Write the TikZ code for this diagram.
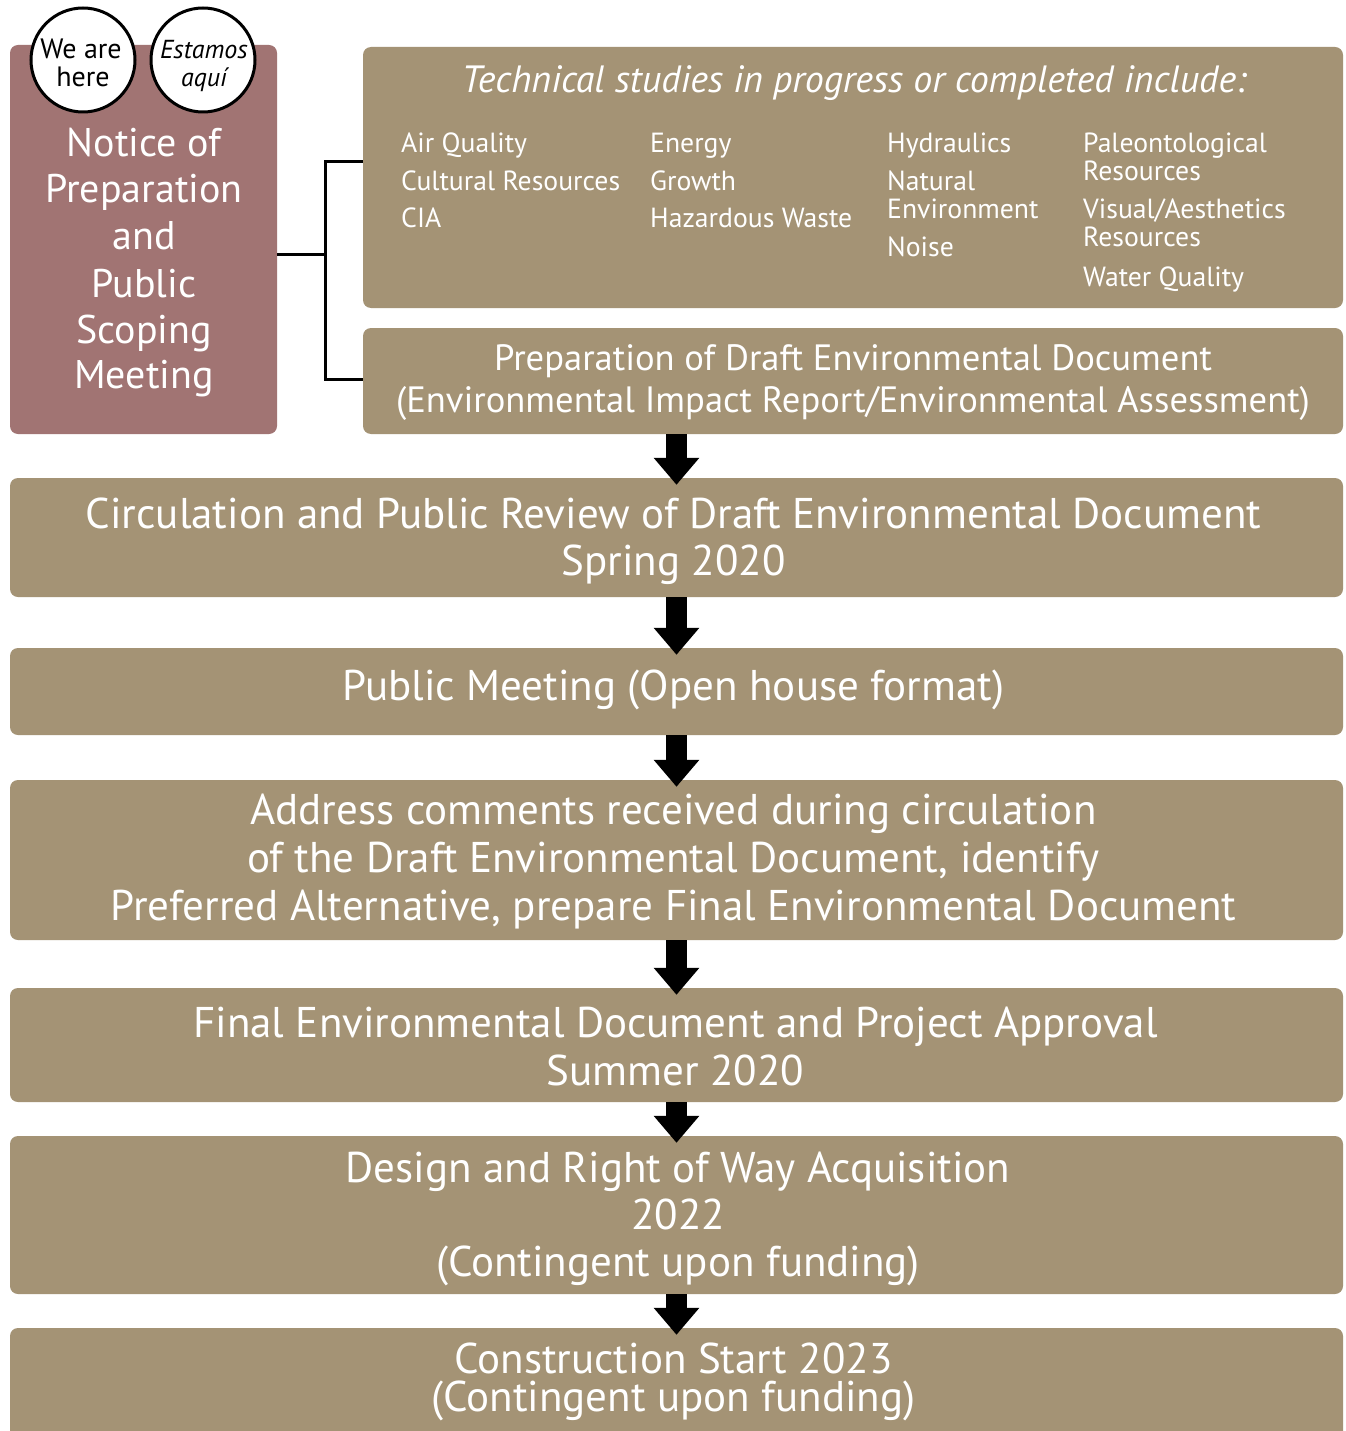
\documentclass[tikz,border=0pt]{standalone}
\usepackage{fontspec}
\setmainfont{PT Sans}
\usetikzlibrary{arrows.meta}
\definecolor{boxtan}{RGB}{164,147,117}
\definecolor{boxrose}{RGB}{161,116,115}
\newcommand\setfs[1]{\fontsize{#1}{#1}\selectfont}
\begin{document}
\begin{tikzpicture}[x=1pt,y=-1pt,
  tanbox/.style={fill=boxtan, rounded corners=8pt, inner sep=0pt, minimum width=#1},
  rosebox/.style={fill=boxrose, rounded corners=8pt, inner sep=0pt},
  badge/.style={circle, draw=black, line width=3pt, fill=white, minimum size=104pt, inner sep=0pt},
  wtxt/.style={text=white, inner sep=0pt, anchor=base},
  btxt/.style={text=black, inner sep=0pt, anchor=base},
  ltxt/.style={text=white, inner sep=0pt, anchor=base west, font=\setfs{27.7}},
  maintxt/.style={wtxt, font=\setfs{43}},
  bigarrow/.style={line width=21pt, -{Triangle[width=44pt,length=27pt]}, shorten >=-7pt},
  conn/.style={line width=3pt, draw=black}]
\clip (0,0) rectangle (1345,1431);
\fill[white] (0,0) rectangle (1345,1431);

% boxes
\node[rosebox, minimum width=267pt, minimum height=389pt] (pink) at (143.5,239.5) {};
\node[tanbox=980pt, minimum height=261pt] (tech) at (853,177.5) {};
\node[tanbox=980pt, minimum height=106pt] (prep) at (853,381) {};
\node[tanbox=1333pt, minimum height=119pt] (b1) at (676.5,537.5) {};
\node[tanbox=1333pt, minimum height=87pt] (b2) at (676.5,691.5) {};
\node[tanbox=1333pt, minimum height=160pt] (b3) at (676.5,860) {};
\node[tanbox=1333pt, minimum height=114pt] (b4) at (676.5,1045) {};
\node[tanbox=1333pt, minimum height=158pt] (b5) at (676.5,1215) {};
\node[tanbox=1333pt, minimum height=117pt] (b6) at (676.5,1386.5) {};

% badges
\node[badge] (here) at (83,60) {};
\node[badge] (aqui) at (203,60) {};
\node[btxt, font=\setfs{28}] (here1) at (81,59) {We are};
\node[btxt, font=\setfs{28}] (here2) at (83,87) {here};
\node[btxt, font=\setfs{26}\itshape] (aqui1) at (204,59) {Estamos};
\node[btxt, font=\setfs{26}\itshape] (aqui2) at (204,87) {aquí};

% pink text
\foreach \t/\y [count=\i] in {Notice of/157, Preparation/203, and/250, Public/297, Scoping/343, Meeting/388}
  \node[wtxt, font=\setfs{40}] (pt\i) at (144,\y) {\t};

% connector
\coordinate (jm) at (325,255);
\coordinate (jt) at (325,162);
\coordinate (jb) at (325,379);
\draw[conn] (jm -| pink.east) -- (jm);
\draw[conn] (jt -| tech.west) -- (jt) -- (jb) -- (jb -| prep.west);

% tech box
\node[wtxt, font=\setfs{38}\itshape] (techtitle) at (854,93) {Technical studies in progress or completed include:};
\node[ltxt] (l1) at (401,153) {Air Quality};
\node[ltxt] (l2) at (401,191) {Cultural Resources};
\node[ltxt] (l3) at (401,228) {CIA};
\node[ltxt] (l4) at (650,153) {Energy};
\node[ltxt] (l5) at (650,191) {Growth};
\node[ltxt] (l6) at (650,228) {Hazardous Waste};
\node[ltxt] (l7) at (887,153) {Hydraulics};
\node[ltxt] (l8) at (887,191) {Natural};
\node[ltxt] (l9) at (887,219) {Environment};
\node[ltxt] (l10) at (887,257) {Noise};
\node[ltxt] (l11) at (1083,153) {Paleontological};
\node[ltxt] (l12) at (1083,181) {Resources};
\node[ltxt] (l13) at (1083,219) {Visual/Aesthetics};
\node[ltxt] (l14) at (1083,247) {Resources};
\node[ltxt] (l15) at (1083,286) {Water Quality};

% prep text
\node[wtxt, font=\setfs{36.6}] (pr1) at (853,370) {Preparation of Draft Environmental Document};
\node[wtxt, font=\setfs{36.6}] (pr2) at (853,412) {(Environmental Impact Report/Environmental Assessment)};

% main texts
\node[maintxt] (t11) at (673.5,528) {Circulation and Public Review of Draft Environmental Document};
\node[maintxt] (t12) at (673.5,575) {Spring 2020};
\node[maintxt] (t21) at (673.5,700) {Public Meeting (Open house format)};
\node[maintxt] (t31) at (673.5,824) {Address comments received during circulation};
\node[maintxt] (t32) at (673.5,872) {of the Draft Environmental Document, identify};
\node[maintxt] (t33) at (673.5,920) {Preferred Alternative, prepare Final Environmental Document};
\node[maintxt] (t41) at (675.5,1037) {Final Environmental Document and Project Approval};
\node[maintxt] (t42) at (675.5,1085) {Summer 2020};
\node[maintxt] (t51) at (678,1182) {Design and Right of Way Acquisition};
\node[maintxt] (t52) at (678,1229) {2022};
\node[maintxt] (t53) at (678,1276) {(Contingent upon funding)};
\node[text=white, inner sep=0pt, align=center, font=\fontsize{43}{38}\selectfont] (t6) at (673.5,1382) {Construction Start 2023\\(Contingent upon funding)};

% arrows
\draw[bigarrow] (b1.north |- prep.south) -- (b1.north);
\draw[bigarrow] (b1.south) -- (b2.north);
\draw[bigarrow] (b2.south) -- (b3.north);
\draw[bigarrow] (b3.south) -- (b4.north);
\draw[bigarrow] (b4.south) -- (b5.north);
\draw[bigarrow] (b5.south) -- (b6.north);
\end{tikzpicture}
\end{document}
